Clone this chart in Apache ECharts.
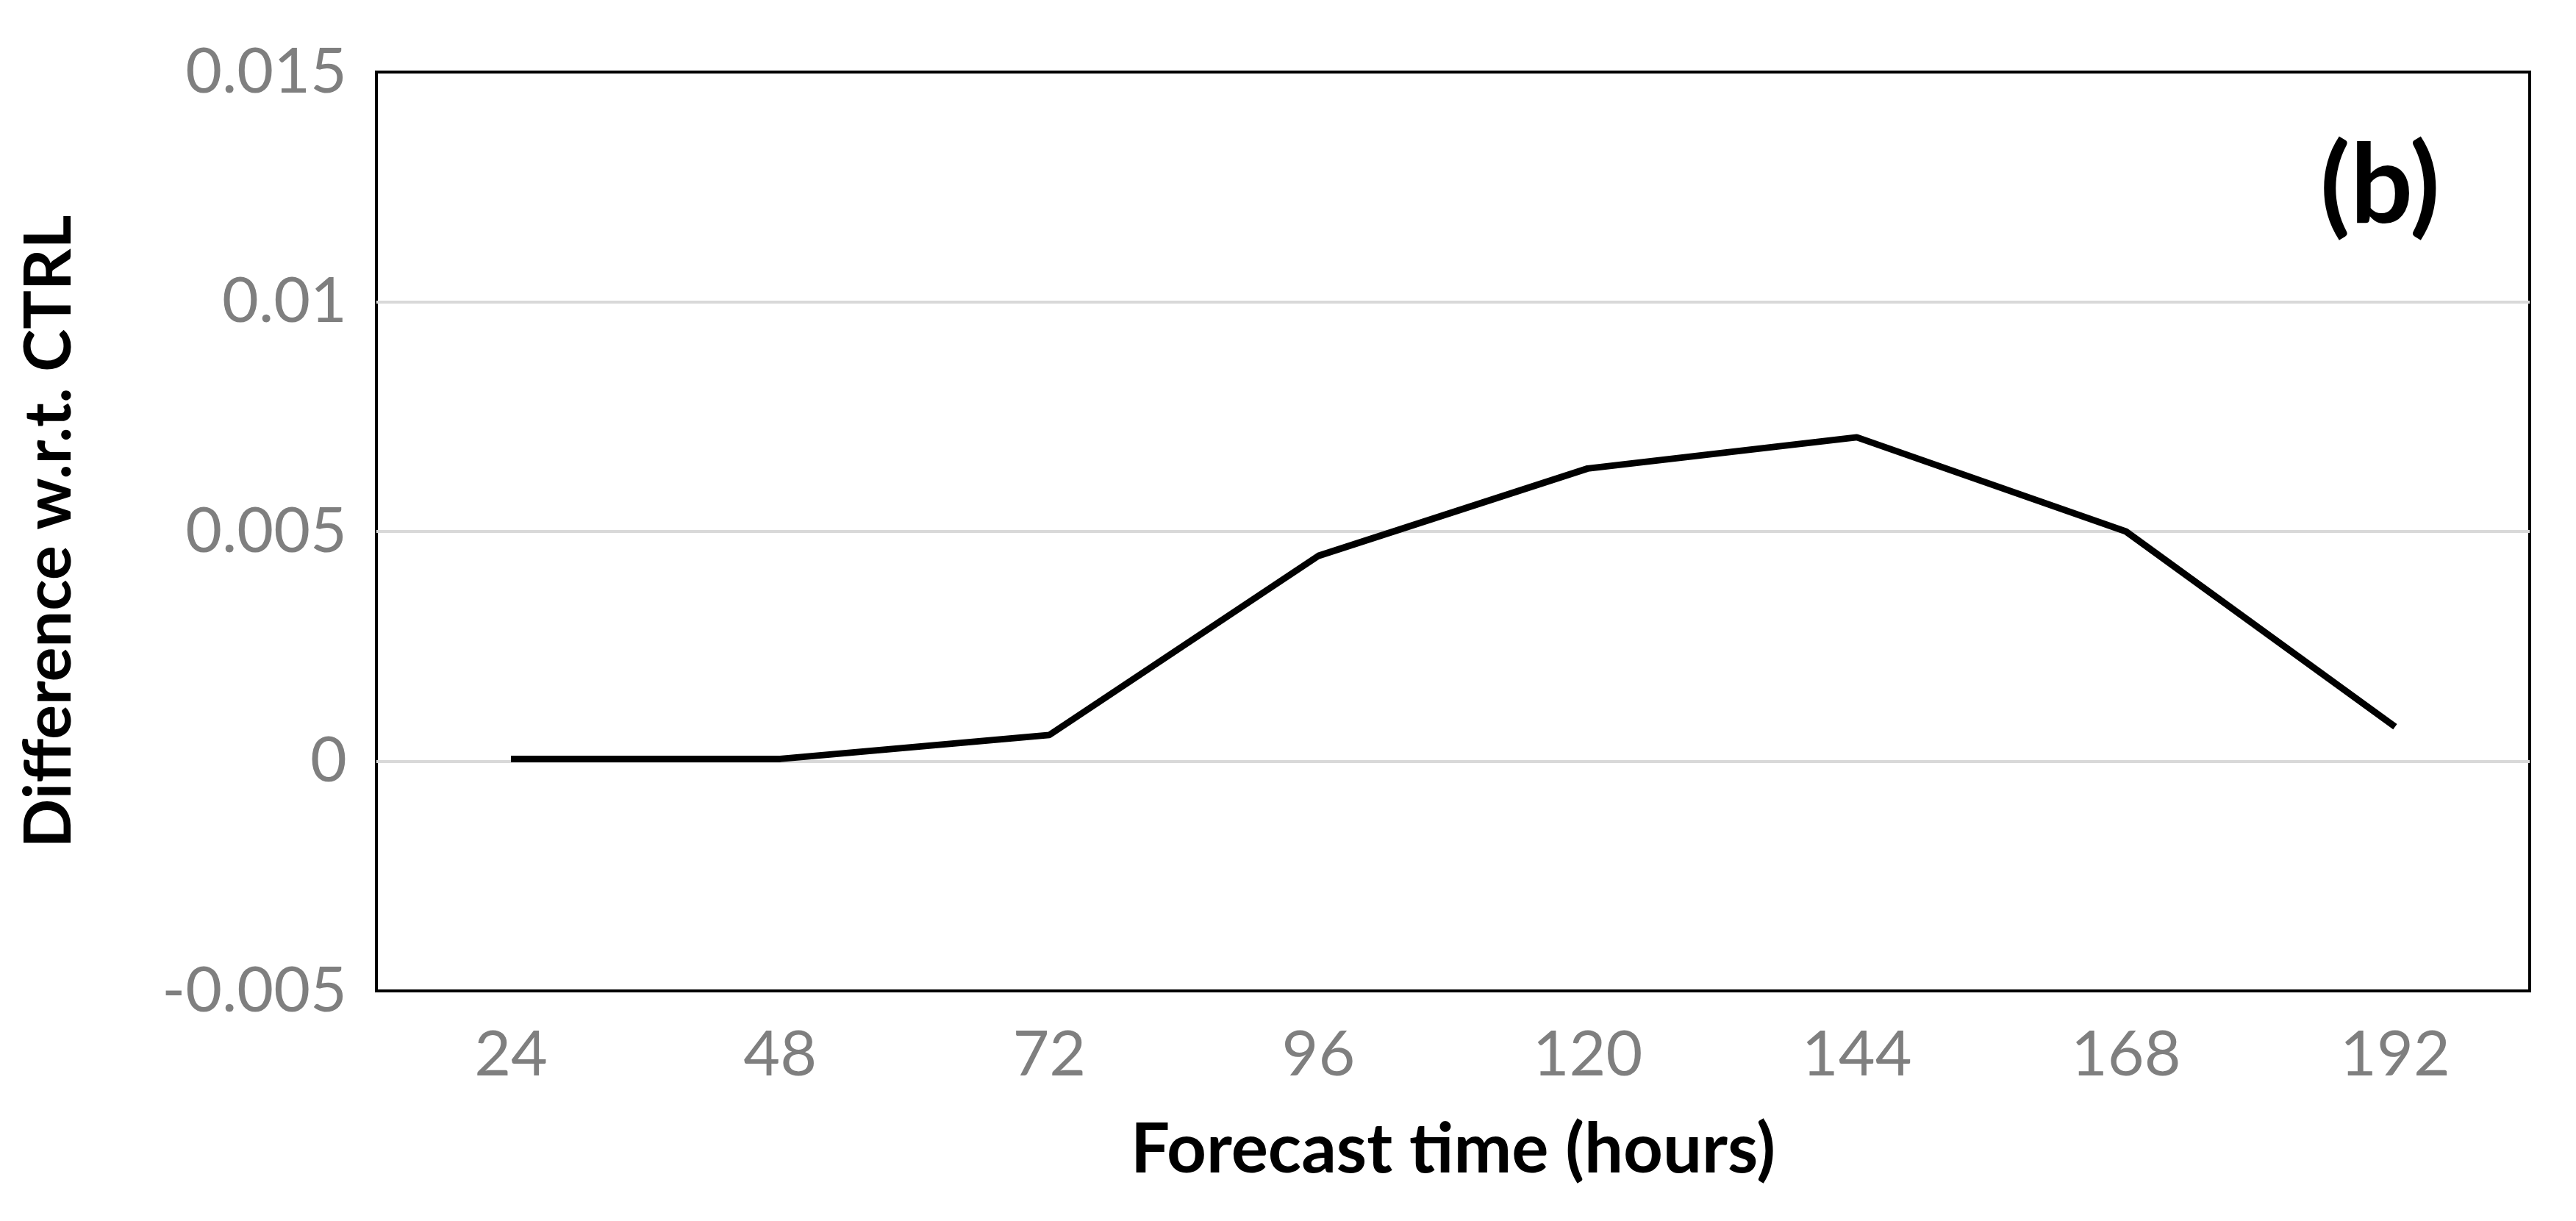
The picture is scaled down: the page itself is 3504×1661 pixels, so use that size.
<!DOCTYPE html>
<html>
<head>
<meta charset="utf-8">
<script src="https://cdn.jsdelivr.net/npm/echarts@6/dist/echarts.min.js"></script>
<style>
  html, body { margin: 0; padding: 0; background: #fff; }
  #chart { width: 3504px; height: 1661px; }
</style>
</head>
<body>
<div id="chart"></div>
<script>
const hours = ["24", "48", "72", "96", "120", "144", "168", "192"];
const diffValues = [0.00005, 0.00005, 0.00057, 0.00447, 0.00637, 0.00705, 0.005, 0.00075];

const chart = echarts.init(document.getElementById("chart"));
const font = "Lato, 'Open Sans', sans-serif";

chart.setOption({
  animation: false,
  grid: { left: 512, right: 63, top: 98, bottom: 313, show: true, borderColor: "#000", borderWidth: 4, backgroundColor: "transparent" },
  graphic: [{
    type: "text", right: 185, top: 180,
    style: { text: "(b)", font: "bold 150px " + font, fill: "#000" }
  }],
  xAxis: {
    type: "category",
    data: hours,
    boundaryGap: true,
    axisLine: { show: false },
    axisTick: { show: false },
    axisLabel: { color: "#7f7f7f", fontSize: 86, fontFamily: font, margin: 44 },
    name: "Forecast time (hours)",
    nameLocation: "middle",
    nameGap: 170,
    nameTextStyle: { color: "#000", fontSize: 94, fontWeight: "bold", fontFamily: font }
  },
  yAxis: {
    type: "value",
    min: -0.005, max: 0.015, interval: 0.005,
    axisLine: { show: false },
    axisTick: { show: false },
    splitLine: { lineStyle: { color: ["#000", "#d9d9d9", "#d9d9d9", "#d9d9d9", "#000"], width: 4 } },
    axisLabel: {
      color: "#7f7f7f", fontSize: 86, fontFamily: font, margin: 40,
      formatter: v => (Math.abs(v) < 1e-12 ? "0" : String(parseFloat(v.toFixed(3))))
    },
    name: "Difference w.r.t. CTRL",
    nameLocation: "middle",
    nameGap: 400,
    nameTextStyle: { color: "#000", fontSize: 88, fontWeight: "bold", fontFamily: font }
  },
  series: [{
    type: "line",
    data: diffValues,
    symbol: "none",
    lineStyle: { color: "#000", width: 9 }
  }]
});
</script>
</body>
</html>
